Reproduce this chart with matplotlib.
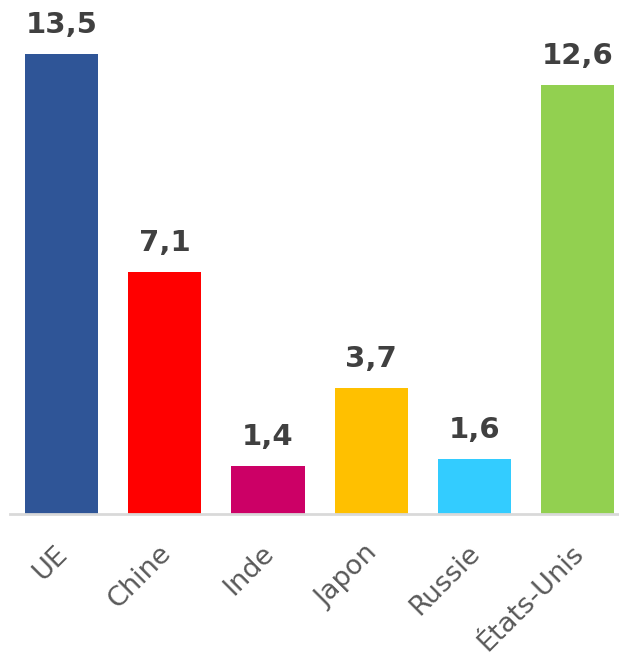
import matplotlib
matplotlib.use("Agg")
import matplotlib.pyplot as plt
from matplotlib.transforms import ScaledTranslation

pays = ["UE", "Chine", "Inde", "Japon", "Russie", "États-Unis"]
valeurs = [13.5, 7.1, 1.4, 3.7, 1.6, 12.6]
couleurs = ["#2F5597", "#FF0000", "#CC0066", "#FFC000", "#33CCFF", "#92D050"]

fig = plt.figure(figsize=(6.19, 6.58), dpi=100)
ax = fig.add_axes([0.016, 0.219, 0.984, 0.781])

x = range(len(pays))
bars = ax.bar(x, valeurs, width=0.71, color=couleurs)

for b, v in zip(bars, valeurs):
    ax.text(b.get_x() + b.get_width() / 2, v + 0.45, f"{v:.1f}".replace(".", ","),
            ha="center", va="bottom", fontsize=21, fontweight="bold", color="#404040")

ax.set_xlim(-0.5, 5.4)
ax.set_ylim(0, 15.1)
ax.set_xticks(list(x))
ax.set_xticklabels(pays, rotation=45, ha="right", va="top", rotation_mode="anchor",
                   fontsize=19.5, color="#595959")
ax.tick_params(axis="x", length=0, pad=19)
decal = ScaledTranslation(-7 / 100, 0, fig.dpi_scale_trans)
for lbl in ax.get_xticklabels():
    lbl.set_transform(lbl.get_transform() + decal)
ax.set_yticks([])
for s in ["top", "right", "left"]:
    ax.spines[s].set_visible(False)
ax.spines["bottom"].set_color("#D9D9D9")
ax.spines["bottom"].set_linewidth(2)

fig.savefig("out.png", dpi=100)
